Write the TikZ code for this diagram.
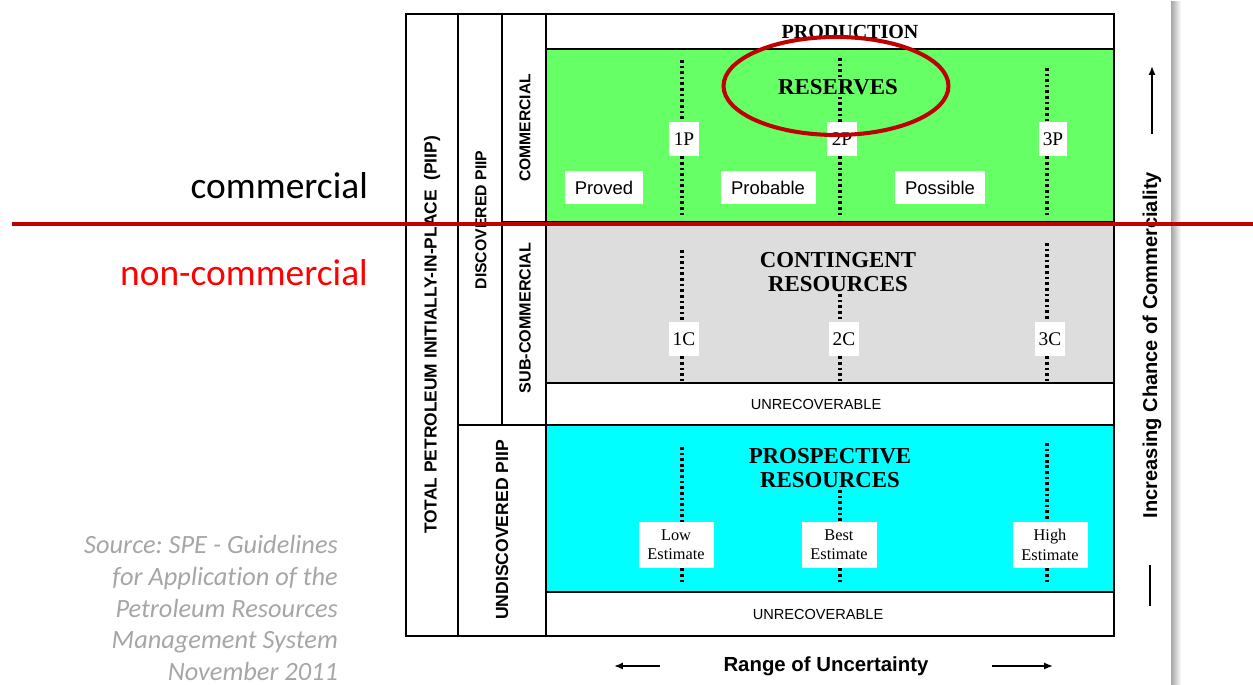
\documentclass[tikz,border=0pt]{standalone}
\usepackage{fontspec}
\setmainfont{Liberation Serif}
\setsansfont{Liberation Sans}
\newfontfamily\calibri[Ligatures=NoCommon]{Carlito}
\usetikzlibrary{arrows.meta,shapes.geometric}
\definecolor{resgreen}{RGB}{102,255,102}
\definecolor{congray}{RGB}{221,221,221}
\definecolor{procyan}{RGB}{0,255,255}
\definecolor{markred}{RGB}{192,0,0}
\definecolor{srcgray}{RGB}{166,166,166}

\begin{document}
\begin{tikzpicture}
 [x=0.02cm, y=-0.02cm,
  band line/.style={line width=1.1pt},
  dot line/.style={line width=1.8pt, dash pattern=on 1.5pt off 1.7pt},
  tag node/.style={fill=white, inner sep=0pt, minimum width=0.6cm, minimum height=0.68cm, font=\fontsize{11}{12}\selectfont},
  word node/.style={fill=white, inner sep=0pt, minimum height=0.66cm, font=\sffamily\fontsize{10.5}{12}\selectfont},
  est node/.style={fill=white, inner sep=0pt, minimum width=1.5cm, minimum height=0.92cm, align=center, font=\fontsize{9.3}{11}\selectfont},
  title node/.style={align=center, inner sep=1pt, font=\bfseries\fontsize{13}{14}\selectfont},
  side node/.style={rotate=90, font=\sffamily\bfseries\fontsize{#1}{11}\selectfont},
  small node/.style={font=\sffamily\fontsize{8.3}{10}\selectfont}]

\useasboundingbox (0,0) rectangle (1253,685);

% slide page with its shadow
\shade[left color=black!35, right color=white] (1171,2) rectangle (1181,685);
\fill[white] (395,2) rectangle (1171,685);

% bands
\fill[resgreen] (546,49) rectangle (1114,222);
\fill[congray] (546,222) rectangle (1114,383);
\fill[procyan] (546,425) rectangle (1114,592);

\draw[band line] (458,14) -- (458,636);
\draw[band line] (502,14) -- (502,425);
\draw[band line] (546,14) -- (546,636);
\draw[band line] (546,49) -- (1114,49);
\draw[band line] (502,222) -- (1114,222);
\draw[band line] (546,383) -- (1114,383);
\draw[band line] (458,425) -- (1114,425);
\draw[band line] (546,592) -- (1114,592);
\draw[line width=1.6pt] (406,14) rectangle (1114,636);

% side columns
\node[side node=9.9] (piip) at (432,335) {TOTAL PETROLEUM INITIALLY-IN-PLACE\ \ (PIIP)};
\node[side node=9] (dpiip) at (481,220) {DISCOVERED PIIP};
\node[side node=10] (upiip) at (502,530) {UNDISCOVERED PIIP};
\node[side node=8.9] (comm) at (525,128) {COMMERCIAL};
\node[side node=9.2] (subcomm) at (525,318) {SUB-COMMERCIAL};

% titles
\node[title node, font=\bfseries\fontsize{11.4}{12}\selectfont] (prod) at (850,32) {PRODUCTION};
\node[title node] (reserves) at (838,87) {RESERVES};
\node[title node] (contingent) at (838,272) {CONTINGENT\\RESOURCES};
\node[title node] (prospective) at (830,468) {PROSPECTIVE\\RESOURCES};
\node[small node] (unrec1) at (816,404) {UNRECOVERABLE};
\node[small node] (unrec2) at (818,614) {UNRECOVERABLE};

% reserves
\coordinate (p1top) at (682,60);  \coordinate (p1bot) at (682,216);
\coordinate (p2top) at (840,58);  \coordinate (p2bot) at (840,216);
\coordinate (p3top) at (1047,68); \coordinate (p3bot) at (1047,216);
\node[tag node] (1P) at (684,139) {1P};
\node[tag node] (2P) at (842,139) {2P};
\node[tag node, minimum width=0.56cm] (3P) at (1053,139) {3P};
\node[word node, minimum width=1.56cm] (proved) at (604,188) {Proved};
\node[word node, minimum width=1.9cm] (probable) at (768,188) {Probable};
\node[word node, minimum width=1.8cm] (possible) at (940,188) {Possible};
\draw[dot line] (p1top) -- (p1top |- 1P.north) (p1bot |- 1P.south) -- (p1bot);
\draw[dot line] (p2top) -- (p2top |- reserves.north) (p2top |- reserves.south) -- (p2top |- 2P.north) (p2bot |- 2P.south) -- (p2bot);
\draw[dot line] (p3top) -- (p3top |- 3P.north) (p3bot |- 3P.south) -- (p3bot);

% contingent
\coordinate (c1top) at (682,250);  \coordinate (c1bot) at (682,381);
\coordinate (c2bot) at (840,381);
\coordinate (c3top) at (1047,243); \coordinate (c3bot) at (1047,381);
\node[tag node] (1C) at (684,339) {1C};
\node[tag node] (2C) at (844,339) {2C};
\node[tag node] (3C) at (1050,339) {3C};
\draw[dot line] (c1top) -- (c1top |- 1C.north) (c1bot |- 1C.south) -- (c1bot);
\draw[dot line] (c2bot |- contingent.south) -- (c2bot |- 2C.north) (c2bot |- 2C.south) -- (c2bot);
\draw[dot line] (c3top) -- (c3top |- 3C.north) (c3bot |- 3C.south) -- (c3bot);

% prospective
\coordinate (e1top) at (682,447);  \coordinate (e1bot) at (682,583);
\coordinate (e2bot) at (840,583);
\coordinate (e3top) at (1047,443); \coordinate (e3bot) at (1047,583);
\node[est node] (lowest) at (676,545) {Low\\Estimate};
\node[est node] (bestest) at (839,545) {Best\\Estimate};
\node[est node] (highest) at (1050,545) {High\\Estimate};
\draw[dot line] (e1top) -- (e1top |- lowest.north) (e1bot |- lowest.south) -- (e1bot);
\draw[dot line] (e2bot |- prospective.south) -- (e2bot |- bestest.north) (e2bot |- bestest.south) -- (e2bot);
\draw[dot line] (e3top) -- (e3top |- highest.north) (e3bot |- highest.south) -- (e3bot);

% axes
\node[font=\sffamily\bfseries\fontsize{11.6}{13}\selectfont] (range) at (826,666) {Range of Uncertainty};
\coordinate (lefta) at (660,666); \coordinate (leftb) at (614,666);
\coordinate (righta) at (992,666); \coordinate (rightb) at (1053,666);
\draw[line width=1.1pt, -{Latex[length=5pt,width=4pt]}] (lefta) -- (leftb);
\draw[line width=1.1pt, -{Latex[length=5pt,width=4pt]}] (righta) -- (rightb);

\node[side node=11.4] (chance) at (1152,345) {Increasing Chance of Commerciality};
\coordinate (upa) at (1152,134); \coordinate (upb) at (1152,66);
\coordinate (lowa) at (1150,606); \coordinate (lowb) at (1150,565);
\draw[line width=1.1pt, -{Latex[length=5pt,width=4pt]}] (upa) -- (upb);
\draw[line width=1.1pt] (lowa) -- (lowb);

% annotations
\node[draw=markred, line width=2.3pt, ellipse, minimum width=4.5cm, minimum height=1.96cm] (ring) at (836,86) {};
\coordinate (cutw) at (12,224); \coordinate (cute) at (1253,224);
\draw[markred, line width=2.3pt] (cutw) -- (cute);

\node[anchor=east, font=\calibri\fontsize{21.3}{26}\selectfont] (commlabel) at (374,186) {commercial};
\node[anchor=east, text=red, font=\calibri\fontsize{21.3}{26}\selectfont] (noncommlabel) at (374,273) {non-commercial};
\node[anchor=north east, align=right, inner sep=1pt, text=srcgray, font=\calibri\itshape\frenchspacing\fontsize{15}{18.1}\selectfont] (source) at (340,533)
  {Source: SPE - Guidelines\\for Application of the\\Petroleum Resources\\Management System\\November 2011};

\end{tikzpicture}
\end{document}
